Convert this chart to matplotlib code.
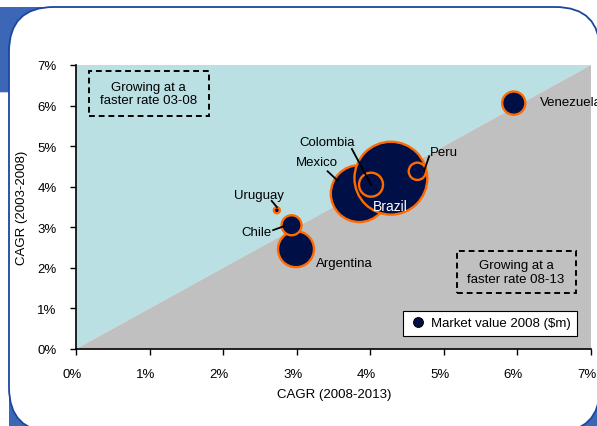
import matplotlib.pyplot as plt
from matplotlib.patches import Rectangle, FancyBboxPatch, Polygon
from matplotlib.lines import Line2D
from matplotlib.transforms import ScaledTranslation

plt.rcParams['font.family'] = ['Liberation Sans', 'DejaVu Sans']

# --- Data (CAGR in %) ---
countries = ['Mexico', 'Brazil', 'Argentina', 'Chile', 'Colombia', 'Peru', 'Venezuela', 'Uruguay']
cagr_08_13 = [3.85, 4.28, 2.99, 2.93, 4.01, 4.64, 5.95, 2.73]
cagr_03_08 = [3.83, 4.21, 2.46, 3.05, 4.05, 4.38, 6.06, 3.42]
market_value = [810, 1330, 324, 100, 144, 75, 135, 9]   # relative bubble area

# label positions (text x, text y, leader start, alignment)
labels = {
    'Colombia': (3.41, 5.10, (3.75, 4.93), 'center'),
    'Mexico': (3.27, 4.61, (3.42, 4.38), 'center'),
    'Peru': (4.81, 4.85, (4.80, 4.75), 'left'),
    'Uruguay': (2.49, 3.79, (2.66, 3.65), 'center'),
    'Chile': (2.45, 2.88, (2.68, 2.93), 'center'),
    'Argentina': (3.26, 2.12, None, 'left'),
    'Venezuela': (6.30, 6.10, None, 'left'),
}
leader_end = {'Mexico': (3.55, 4.16), 'Peru': (4.73, 4.38), 'Uruguay': (2.73, 3.50),
              'Chile': (2.83, 3.03), 'Colombia': (4.01, 4.05)}

ticks = list(range(0, 8))
tick_labels = [f'{t}%' for t in ticks]

fig = plt.figure(figsize=(5.97, 4.27), dpi=100)

# --- frame decoration (pixel coords) ---
W, H = 597, 427
blue = '#3C67B6'
for (x0, y0, w, h) in [(0, 8, 60, 85), (9, 380, 50, 47), (560, 380, 37, 47)]:
    fig.patches.append(Rectangle((x0 / W, (H - y0 - h) / H), w / W, h / H,
                                 transform=fig.transFigure, facecolor=blue,
                                 edgecolor='none', zorder=0))
fig.patches.append(Rectangle((0, (H - 94) / H), 9 / W, 1 / H, transform=fig.transFigure,
                             facecolor='#c8d0e0', edgecolor='none', zorder=0))
panel = FancyBboxPatch((9 / W, -6 / H), 591 / W, 425 / H,
                       boxstyle='round,pad=0,rounding_size=0.075',
                       mutation_aspect=W / H,
                       transform=fig.transFigure, facecolor='white',
                       edgecolor='#1A47A0', linewidth=1.3, zorder=1)
fig.patches.append(panel)

ax = fig.add_axes([76 / W, 77 / H, 515 / W, 284 / H])
ax.set_zorder(2)
ax.patch.set_alpha(0)
ax.set_xlim(0, 7)
ax.set_ylim(0, 7)

# background triangles
ax.add_patch(Polygon([(0, 0), (0, 7), (7, 7)], closed=True, facecolor='#BBE0E3',
                     edgecolor='none', zorder=0))
ax.add_patch(Polygon([(0, 0), (7, 0), (7, 7)], closed=True, facecolor='#C0C0C0',
                     edgecolor='none', zorder=0))

# bubbles
sizes = [v * 2.07 for v in market_value]
ax.scatter(cagr_08_13, cagr_03_08, s=sizes, c='#000F45', edgecolors='#FF6A00',
           linewidths=1.7, zorder=3, clip_on=False)

for name, (tx, ty, start, ha) in labels.items():
    ax.text(tx, ty, name, ha=ha, va='center', fontsize=9.5, color='black', zorder=5)
    if start is not None:
        end = leader_end[name]
        ax.plot([start[0], end[0]], [start[1], end[1]], color='black', lw=1.3, zorder=4)
ax.text(4.27, 3.52, 'Brazil', ha='center', va='center', fontsize=10, color='white', zorder=5)

# dashed annotation boxes
ax.add_patch(Rectangle((0.18, 5.74), 1.63, 1.11, fill=False, ls=(0, (3, 2)),
                       lw=1.4, edgecolor='black', zorder=4))
ax.text(0.99, 6.29, 'Growing at a\nfaster rate 03-08', ha='center', va='center',
        fontsize=9.5, linespacing=1.15, zorder=5)
ax.add_patch(Rectangle((5.18, 1.38), 1.61, 1.03, fill=False, ls=(0, (3, 2)),
                       lw=1.4, edgecolor='black', zorder=4))
ax.text(5.98, 1.90, 'Growing at a\nfaster rate 08-13', ha='center', va='center',
        fontsize=9.5, linespacing=1.15, zorder=5)

# legend
handle = Line2D([], [], marker='o', ls='none', markersize=7, markerfacecolor='#000F45',
                markeredgecolor='black', markeredgewidth=0.8)
leg = ax.legend([handle], ['Market value 2008 ($m)'], loc='lower right',
                bbox_to_anchor=(0.973, 0.046), borderaxespad=0, fancybox=False,
                framealpha=1, edgecolor='black', fontsize=9.5, handletextpad=0.4,
                borderpad=0.5, handlelength=1.2)
leg.get_frame().set_linewidth(0.8)
leg.set_zorder(6)

# axes styling
ax.set_xticks(ticks)
ax.set_yticks(ticks)
ax.set_xticklabels(tick_labels)
ax.set_yticklabels(tick_labels)
for side in ['top', 'right']:
    ax.spines[side].set_visible(False)
for side in ['left', 'bottom']:
    ax.spines[side].set_linewidth(1.2)
    ax.spines[side].set_zorder(4)
ax.tick_params(direction='out', length=4, width=1, labelsize=9.5, pad=10, colors='black')
shift = ScaledTranslation(-4 / 100, 0, fig.dpi_scale_trans)
for lab in ax.get_xticklabels():
    lab.set_transform(lab.get_transform() + shift)

fig.text(334 / W, (H - 395) / H, 'CAGR (2008-2013)', ha='center', va='center', fontsize=9.5)
fig.text(22 / W, (H - 208) / H, 'CAGR (2003-2008)', ha='center', va='center',
         rotation=90, fontsize=9.5)

fig.savefig('out.png', dpi=100)
